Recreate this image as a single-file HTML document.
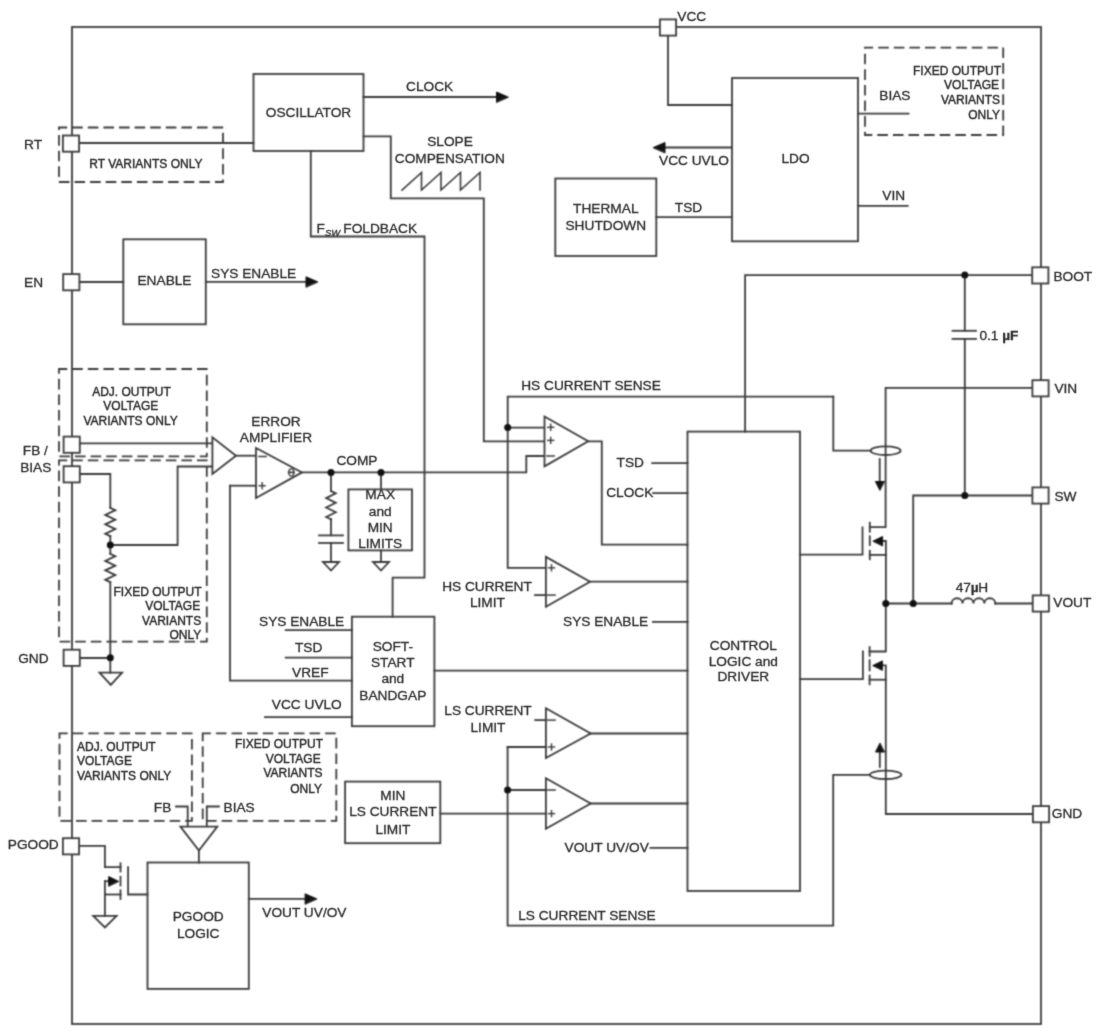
<!DOCTYPE html>
<html><head><meta charset="utf-8"><title>Block Diagram</title>
<style>
html,body{margin:0;padding:0;background:#fff;}
svg{display:block;}
text{font-family:"Liberation Sans",sans-serif;font-size:13.7px;fill:#2a2a2a;stroke:#2a2a2a;stroke-width:0.3px;}
.d{fill:none;stroke:#3a3a3a;stroke-width:1.8;stroke-dasharray:8.8 6.8;stroke-dashoffset:1.5;}
</style></head>
<body>
<svg width="1100" height="1036" viewBox="0 0 1100 1036">
<defs><filter id="soft" x="0" y="0" width="1100" height="1036" filterUnits="userSpaceOnUse" color-interpolation-filters="sRGB"><feConvolveMatrix order="3" kernelMatrix="0.0484 0.1232 0.0484 0.1232 0.3136 0.1232 0.0484 0.1232 0.0484" divisor="1" edgeMode="duplicate"/></filter>
<filter id="softt" x="0" y="0" width="1100" height="1036" filterUnits="userSpaceOnUse" color-interpolation-filters="sRGB"><feConvolveMatrix order="3" kernelMatrix="0.0144 0.0912 0.0144 0.0912 0.5776 0.0912 0.0144 0.0912 0.0144" divisor="1" edgeMode="duplicate"/></filter></defs>
<g filter="url(#soft)" fill="none" stroke="#3a3a3a" stroke-width="1.8" stroke-linejoin="miter" stroke-linecap="square">
<rect x="72" y="27" width="969" height="997" fill="none"/>
<rect class="d" x="59" y="127.5" width="164" height="54.5"/>
<rect class="d" x="59" y="369" width="147.8" height="87.4"/>
<rect class="d" x="59" y="460.4" width="147.8" height="181.2"/>
<rect class="d" x="865" y="47.7" width="138.2" height="87.3"/>
<rect class="d" x="59.5" y="733.4" width="132.4" height="87.5"/>
<rect class="d" x="202.7" y="733.4" width="133.6" height="87.5"/>
<rect x="253.5" y="74" width="110" height="77" fill="none"/>
<path d="M79.5,143 L253.5,143"/>
<path d="M363.5,97 L497,97"/>
<path d="M508,97 L496.5,92 L496.5,102Z" fill="#111" stroke="#111" stroke-width="1"/>
<path d="M363.5,136.3 L390.8,136.3 L390.8,198.3 L483.8,198.3 L483.8,441.3 L544.5,441.3"/>
<path d="M402,190 L421.5,172.5 L421.5,190 L441,172.5 L441,190 L460.5,172.5 L460.5,190 L480,172.5 L480,190" stroke-width="1.6"/>
<path d="M310.8,151 L310.8,236.5 L424.5,236.5 L424.5,577.7 L392.6,577.7 L392.6,616.7"/>
<rect x="732" y="78" width="126" height="163.3" fill="none"/>
<path d="M668,35.5 L668,105 L732,105"/>
<path d="M732,147.5 L664,147.5"/>
<path d="M653.5,147.5 L665,142.5 L665,152.5Z" fill="#111" stroke="#111" stroke-width="1"/>
<rect x="555.3" y="178.5" width="101" height="77.5" fill="none"/>
<path d="M656.3,217.2 L732,217.2"/>
<path d="M858,113.7 L908.5,113.7"/>
<path d="M858,205.9 L907.7,205.9"/>
<rect x="123.3" y="239.3" width="82.5" height="85" fill="none"/>
<path d="M79.5,282 L123.3,282"/>
<path d="M205.8,281.8 L306,281.8"/>
<path d="M317.5,281.8 L306,276.8 L306,286.8Z" fill="#111" stroke="#111" stroke-width="1"/>
<path d="M80,443.3 L212.4,443.3"/>
<path d="M80,474 L110.3,474 L110.3,507.8"/>
<path d="M110.3,507.8 L115.3,510.167 L105.3,514.9 L115.3,519.633 L105.3,524.367 L115.3,529.1 L105.3,533.833 L110.3,536.2"/>
<path d="M110.3,536.2 L110.3,553.8"/>
<path d="M110.3,553.8 L115.3,556.167 L105.3,560.9 L115.3,565.633 L105.3,570.367 L115.3,575.1 L105.3,579.833 L110.3,582.2"/>
<path d="M110.3,582.2 L110.3,672.7"/>
<path d="M99.5,672.7 L122.1,672.7 L110.8,684.9Z" fill="none"/>
<path d="M80,658 L110.3,658"/>
<path d="M110.3,545 L177.6,545 L177.6,466.5 L212.4,466.5"/>
<path d="M212.4,437.4 L212.4,474 L236,455.7Z" fill="#fff"/>
<path d="M236,455.7 L256,455.7"/>
<path d="M256,448 L256,498 L302,472.4Z" fill="#fff"/>
<path d="M258.9,456.5 L266.1,456.5" stroke-width="1.5"/>
<path d="M259.2,485.7 L265.2,485.7" stroke-width="1.4"/>
<path d="M262.2,482.7 L262.2,488.7" stroke-width="1.4"/>
<ellipse cx="291.3" cy="472.4" rx="2.6" ry="3.5" fill="none" stroke-width="1.3"/>
<path d="M288.7,472.4 L293.9,472.4" stroke-width="1.8"/>
<path d="M230,485.7 L256,485.7"/>
<path d="M230,485.7 L230,680.6 L351.9,680.6"/>
<path d="M302,472.4 L526.3,472.4 L526.3,456 L544.5,456"/>
<path d="M331,472.4 L331,491"/>
<path d="M331,491 L335.8,493.367 L326.2,498.1 L335.8,502.833 L326.2,507.567 L335.8,512.3 L326.2,517.033 L331,519.4"/>
<path d="M331,519 L331,535.4"/>
<path d="M319,535.4 L343,535.4"/>
<path d="M319,543 L343,543"/>
<path d="M331,543 L331,562"/>
<path d="M323,562 L339,562 L331,570.5Z" fill="none"/>
<path d="M381,472.4 L381,489.4"/>
<rect x="348.4" y="489.4" width="63.6" height="61" fill="none"/>
<path d="M381,550.4 L381,562"/>
<path d="M373,562 L389,562 L381,570.5Z" fill="none"/>
<rect x="351.9" y="616.7" width="82.5" height="109.5" fill="none"/>
<path d="M285.7,630.2 L351.9,630.2"/>
<path d="M285.7,657.6 L351.9,657.6"/>
<path d="M264.9,717.2 L351.9,717.2"/>
<path d="M434.4,670.6 L687.5,670.6"/>
<path d="M833.3,396.6 L507.7,396.6 L507.7,567.8 L545.9,567.8"/>
<path d="M507.7,427.6 L544.5,427.6"/>
<path d="M544.5,416.5 L544.5,466.4 L588.2,441.3Z" fill="#fff"/>
<path d="M547.7,427.3 L553.7,427.3" stroke-width="1.4"/>
<path d="M550.7,424.3 L550.7,430.3" stroke-width="1.4"/>
<path d="M547.7,440.4 L553.7,440.4" stroke-width="1.4"/>
<path d="M550.7,437.4 L550.7,443.4" stroke-width="1.4"/>
<path d="M546.9,456 L554.1,456" stroke-width="1.5"/>
<path d="M588.2,441.3 L601.8,441.3 L601.8,544.6 L687.5,544.6"/>
<path d="M652.2,463.1 L687.5,463.1"/>
<path d="M653,493.1 L687.5,493.1"/>
<path d="M545.9,556.9 L545.9,606.8 L590,581.7Z" fill="#fff"/>
<path d="M548.5,567.8 L554.5,567.8" stroke-width="1.4"/>
<path d="M551.5,564.8 L551.5,570.8" stroke-width="1.4"/>
<path d="M535,595.1 L545.9,595.1"/>
<path d="M547.9,595.1 L555.1,595.1" stroke-width="1.5"/>
<path d="M590,581.7 L687.5,581.7"/>
<path d="M652.9,621.9 L687.5,621.9"/>
<path d="M545.9,708.3 L545.9,758.1 L590.7,733.5Z" fill="#fff"/>
<path d="M535.2,720.1 L545.9,720.1"/>
<path d="M547.9,720.1 L555.1,720.1" stroke-width="1.5"/>
<path d="M507.6,747 L545.9,747"/>
<path d="M548.5,747 L554.5,747" stroke-width="1.4"/>
<path d="M551.5,744 L551.5,750" stroke-width="1.4"/>
<path d="M590.7,733.5 L687.5,733.5"/>
<path d="M545.9,778.3 L545.9,828.7 L590.7,803.5Z" fill="#fff"/>
<path d="M507.6,790 L545.9,790"/>
<path d="M547.9,790 L555.1,790" stroke-width="1.5"/>
<path d="M440.3,813.6 L545.9,813.6"/>
<path d="M548.5,813.6 L554.5,813.6" stroke-width="1.4"/>
<path d="M551.5,810.6 L551.5,816.6" stroke-width="1.4"/>
<path d="M590.7,803.5 L687.5,803.5"/>
<rect x="345.1" y="781.6" width="95.2" height="61.6" fill="none"/>
<path d="M507.6,747 L507.6,925.6 L833.2,925.6 L833.2,774.8 L869.6,774.8"/>
<path d="M650.5,847.9 L687.5,847.9"/>
<rect x="687.5" y="431.6" width="112.5" height="459.4" fill="none"/>
<path d="M745.1,431.6 L745.1,275.1 L1031.8,275.1"/>
<path d="M964.8,275.1 L964.8,330.6"/>
<path d="M952.5,330.8 L976,330.8"/>
<path d="M952.5,338.9 L976,338.9"/>
<path d="M964.8,339 L964.8,495.5"/>
<path d="M1032,387.8 L885.6,387.8 L885.6,527.2 L869.8,527.2"/>
<path d="M833.3,396.6 L833.3,450.7 L870.5,450.7"/>
<ellipse cx="885.6" cy="450.7" rx="15" ry="4.3" fill="none"/>
<path d="M879.7,459 L879.7,482"/>
<path d="M879.7,490 L875.4,481.5 L884,481.5Z" fill="#111" stroke="#111" stroke-width="1"/>
<path d="M869.8,522.7 L869.8,531.7"/>
<path d="M869.8,536.3 L869.8,545"/>
<path d="M869.8,550.8 L869.8,559.2"/>
<path d="M882.6,541 L885.9,541 L885.9,603.5"/>
<path d="M873.3,541 L882.6,536.5 L882.6,545.5Z" fill="#111" stroke="#111" stroke-width="1"/>
<path d="M869.8,554.9 L885.9,554.9"/>
<path d="M862.5,527.4 L862.5,554.6 L800,554.6"/>
<path d="M1032,495.5 L913.2,495.5 L913.2,603.5"/>
<path d="M885.8,603.5 L951.6,603.5"/>
<path d="M951.6,603.5 C951.60,596.5 962.52,596.5 962.52,603.5 C962.52,596.5 973.45,596.5 973.45,603.5 C973.45,596.5 984.38,596.5 984.38,603.5 C984.38,596.5 995.30,596.5 995.30,603.5" fill="none"/>
<path d="M995.3,603.5 L1032.5,603.5"/>
<path d="M885.8,603.5 L885.8,651.5 L869.6,651.5"/>
<path d="M869.6,647.1 L869.6,655.8"/>
<path d="M869.6,660.2 L869.6,670.4"/>
<path d="M869.6,675.6 L869.6,684.3"/>
<path d="M882.6,665.4 L885.8,665.4 L885.8,814 L1032.5,814"/>
<path d="M873.1,665.4 L882.4,660.9 L882.4,669.9Z" fill="#111" stroke="#111" stroke-width="1"/>
<path d="M869.6,679.7 L885.8,679.7"/>
<path d="M862.9,651.5 L862.9,679.1 L800,679.1"/>
<ellipse cx="885.6" cy="774.8" rx="15.8" ry="4.2" fill="none"/>
<path d="M879.8,767 L879.8,751"/>
<path d="M879.8,743.5 L875.5,752 L884.1,752Z" fill="#111" stroke="#111" stroke-width="1"/>
<path d="M79.5,845.9 L104.9,845.9 L104.9,867.2 L120.5,867.2"/>
<path d="M120.5,863.3 L120.5,871.5"/>
<path d="M120.5,876.8 L120.5,885.5"/>
<path d="M120.5,890.3 L120.5,899"/>
<path d="M104.9,881.2 L109,881.2"/>
<path d="M118.3,881.2 L108.7,876.6 L108.7,885.8Z" fill="#111" stroke="#111" stroke-width="1"/>
<path d="M104.9,894.5 L120.5,894.5"/>
<path d="M104.9,881.2 L104.9,915.9"/>
<path d="M93.2,915.9 L116.6,915.9 L104.9,927.5Z" fill="none"/>
<path d="M128.1,867.2 L128.1,894.5 L147.5,894.5"/>
<rect x="147.5" y="862.5" width="101.3" height="126.4" fill="none"/>
<path d="M248.8,898.8 L305.5,898.8"/>
<path d="M316.6,898.8 L305.1,893.8 L305.1,903.8Z" fill="#111" stroke="#111" stroke-width="1"/>
<path d="M176,806.5 L187.7,806.5 L187.7,826.6"/>
<path d="M218.9,806.5 L206.8,806.5 L206.8,826.6"/>
<path d="M180.4,826.6 L217.3,826.6 L198.9,850.5Z" fill="#fff"/>
<path d="M198.9,850.5 L198.9,862.5"/>
<circle cx="110.3" cy="657.8" r="3.5" fill="#111" stroke="none"/>
<circle cx="110.3" cy="545" r="3.5" fill="#111" stroke="none"/>
<circle cx="331" cy="472.4" r="3.5" fill="#111" stroke="none"/>
<circle cx="381" cy="472.4" r="3.5" fill="#111" stroke="none"/>
<circle cx="507.7" cy="427.6" r="3.5" fill="#111" stroke="none"/>
<circle cx="507.6" cy="790" r="3.5" fill="#111" stroke="none"/>
<circle cx="964.8" cy="275.1" r="3.5" fill="#111" stroke="none"/>
<circle cx="964.8" cy="495.5" r="3.5" fill="#111" stroke="none"/>
<circle cx="885.8" cy="603.5" r="3.5" fill="#111" stroke="none"/>
<circle cx="913.2" cy="603.5" r="3.5" fill="#111" stroke="none"/>
<rect x="659.9" y="19.4" width="16.2" height="16.2" fill="#fff"/>
<rect x="62.9" y="135.5" width="16.2" height="16.2" fill="#fff"/>
<rect x="63.2" y="274.1" width="16.2" height="16.2" fill="#fff"/>
<rect x="63.6" y="436.6" width="16.2" height="16.2" fill="#fff"/>
<rect x="63.6" y="466.2" width="16.2" height="16.2" fill="#fff"/>
<rect x="63.6" y="649.7" width="16.2" height="16.2" fill="#fff"/>
<rect x="62.9" y="838.2" width="16.2" height="16.2" fill="#fff"/>
<rect x="1032.2" y="267.3" width="16.2" height="16.2" fill="#fff"/>
<rect x="1032.4" y="380.2" width="16.2" height="16.2" fill="#fff"/>
<rect x="1032.4" y="487.4" width="16.2" height="16.2" fill="#fff"/>
<rect x="1032.7" y="595.4" width="16.2" height="16.2" fill="#fff"/>
<rect x="1032.9" y="806.1" width="16.2" height="16.2" fill="#fff"/>
</g>
<g filter="url(#softt)" transform="translate(0,-0.4)">
<text x="308.5" y="117.6" text-anchor="middle">OSCILLATOR</text>
<text x="406" y="91.3">CLOCK</text>
<text x="450" y="146.3" text-anchor="middle">SLOPE</text>
<text x="449.8" y="163.8" text-anchor="middle">COMPENSATION</text>
<text x="316.5" y="233.4">F</text>
<text x="325" y="236" style="font-size:9.5px" font-style="italic">SW</text>
<text x="343.3" y="233.4">FOLDBACK</text>
<text x="795.5" y="163.6" text-anchor="middle">LDO</text>
<text x="659" y="165.4">VCC UVLO</text>
<text x="605.8" y="213.2" text-anchor="middle">THERMAL</text>
<text x="605.8" y="230" text-anchor="middle">SHUTDOWN</text>
<text x="674.8" y="212">TSD</text>
<text x="879.3" y="100.4">BIAS</text>
<text x="882.3" y="200.4">VIN</text>
<text x="1001" y="75.2" text-anchor="end" style="font-size:12.0px;stroke-width:0.4px">FIXED OUTPUT</text>
<text x="999" y="89.8" text-anchor="end" style="font-size:12.0px;stroke-width:0.4px">VOLTAGE</text>
<text x="1000" y="104.4" text-anchor="end" style="font-size:12.0px;stroke-width:0.4px">VARIANTS</text>
<text x="1000" y="119" text-anchor="end" style="font-size:12.0px;stroke-width:0.4px">ONLY</text>
<text x="164.5" y="285.8" text-anchor="middle">ENABLE</text>
<text x="211" y="278.3">SYS ENABLE</text>
<text x="89.3" y="168" style="font-size:12.0px;stroke-width:0.4px">RT VARIANTS ONLY</text>
<text x="131.5" y="396.3" text-anchor="middle" style="font-size:12.0px;stroke-width:0.4px">ADJ. OUTPUT</text>
<text x="130.8" y="410.5" text-anchor="middle" style="font-size:12.0px;stroke-width:0.4px">VOLTAGE</text>
<text x="130.6" y="425" text-anchor="middle" style="font-size:12.0px;stroke-width:0.4px">VARIANTS ONLY</text>
<text x="201.5" y="596.3" text-anchor="end" style="font-size:12.0px;stroke-width:0.4px">FIXED OUTPUT</text>
<text x="200.2" y="610.6" text-anchor="end" style="font-size:12.0px;stroke-width:0.4px">VOLTAGE</text>
<text x="201.2" y="625" text-anchor="end" style="font-size:12.0px;stroke-width:0.4px">VARIANTS</text>
<text x="201.2" y="639.5" text-anchor="end" style="font-size:12.0px;stroke-width:0.4px">ONLY</text>
<text x="276" y="426.4" text-anchor="middle">ERROR</text>
<text x="276" y="442.4" text-anchor="middle">AMPLIFIER</text>
<text x="336.4" y="465.4">COMP</text>
<text x="380.2" y="499.6" text-anchor="middle">MAX</text>
<text x="380.2" y="516.2" text-anchor="middle">and</text>
<text x="380.2" y="532.2" text-anchor="middle">MIN</text>
<text x="380.2" y="548.2" text-anchor="middle">LIMITS</text>
<text x="392.8" y="651.6" text-anchor="middle">SOFT-</text>
<text x="392.8" y="667.6" text-anchor="middle">START</text>
<text x="392.8" y="683.4" text-anchor="middle">and</text>
<text x="392.8" y="700.4" text-anchor="middle">BANDGAP</text>
<text x="259" y="626.9">SYS ENABLE</text>
<text x="295" y="652.7">TSD</text>
<text x="292" y="677.5">VREF</text>
<text x="271.8" y="709.6">VCC UVLO</text>
<text x="521.2" y="390">HS CURRENT SENSE</text>
<text x="616.6" y="467.2">TSD</text>
<text x="606.2" y="497.7">CLOCK</text>
<text x="487" y="591.8" text-anchor="middle">HS CURRENT</text>
<text x="487.4" y="607.6" text-anchor="middle">LIMIT</text>
<text x="563" y="626.9">SYS ENABLE</text>
<text x="488" y="715.4" text-anchor="middle">LS CURRENT</text>
<text x="488" y="732.9" text-anchor="middle">LIMIT</text>
<text x="392.9" y="800.5" text-anchor="middle">MIN</text>
<text x="392.9" y="816.6" text-anchor="middle">LS CURRENT</text>
<text x="392.9" y="834" text-anchor="middle">LIMIT</text>
<text x="518.2" y="920.2">LS CURRENT SENSE</text>
<text x="564.6" y="852.3">VOUT UV/OV</text>
<text x="743.3" y="650.3" text-anchor="middle">CONTROL</text>
<text x="743.3" y="666" text-anchor="middle">LOGIC and</text>
<text x="743.3" y="681.6" text-anchor="middle">DRIVER</text>
<text x="979.4" y="340">0.1 <tspan font-weight="bold">µF</tspan></text>
<text x="955.8" y="592" letter-spacing="-0.2">47<tspan font-weight="bold">µ</tspan>H</text>
<text x="198.2" y="921.1" text-anchor="middle">PGOOD</text>
<text x="198.2" y="938.6" text-anchor="middle">LOGIC</text>
<text x="262.3" y="917.3">VOUT UV/OV</text>
<text x="77" y="751.2" style="font-size:12.0px;stroke-width:0.4px">ADJ. OUTPUT</text>
<text x="77" y="765.5" style="font-size:12.0px;stroke-width:0.4px">VOLTAGE</text>
<text x="77" y="780" style="font-size:12.0px;stroke-width:0.4px">VARIANTS ONLY</text>
<text x="323" y="748.5" text-anchor="end" style="font-size:12.0px;stroke-width:0.4px">FIXED OUTPUT</text>
<text x="320.7" y="763" text-anchor="end" style="font-size:12.0px;stroke-width:0.4px">VOLTAGE</text>
<text x="322.5" y="777.6" text-anchor="end" style="font-size:12.0px;stroke-width:0.4px">VARIANTS</text>
<text x="322" y="793.3" text-anchor="end" style="font-size:12.0px;stroke-width:0.4px">ONLY</text>
<text x="153.8" y="812.9">FB</text>
<text x="223.5" y="812.9">BIAS</text>
<text x="677.3" y="21.3">VCC</text>
<text x="24" y="149.4">RT</text>
<text x="24" y="287.1">EN</text>
<text x="22.8" y="455.7">FB /</text>
<text x="20.2" y="472.7">BIAS</text>
<text x="18.2" y="663.2">GND</text>
<text x="7.8" y="849.8">PGOOD</text>
<text x="1053.4" y="281.2">BOOT</text>
<text x="1054.4" y="393.9">VIN</text>
<text x="1054.4" y="501.2">SW</text>
<text x="1053.3" y="607.8">VOUT</text>
<text x="1051.8" y="818.7">GND</text>
</g>
</svg>
</body></html>
